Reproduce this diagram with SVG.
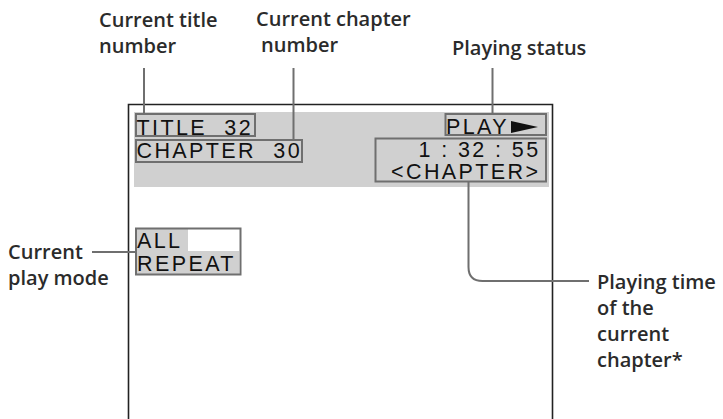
<svg xmlns="http://www.w3.org/2000/svg" width="723" height="419" viewBox="0 0 723 419">
<style>
.lbl{font-family:"Open Sans","Noto Sans",sans-serif;font-weight:600;font-size:20px;fill:#2b2b2b}
.osd{font-family:"Liberation Sans",Arial,sans-serif;font-size:21.5px;fill:#111;letter-spacing:2.4px}
.box{fill:none;stroke:#6f6f6f;stroke-width:2}
.lead{fill:none;stroke:#6f6f6f;stroke-width:2}
</style>
<rect width="723" height="419" fill="#fff"/>
<g id="screen">
<path d="M128.5,419 V104.5 H552.5 V419" fill="none" stroke="#222" stroke-width="1.6"/>
<rect x="134" y="112" width="415" height="75" fill="#d0d0d0"/>
</g>
<g id="title-box">
<rect class="box" x="136" y="114" width="119" height="22"/>
<text class="osd" x="136.5" y="134.5">TITLE</text>
<text class="osd" x="253" y="134.5" text-anchor="end">32</text>
</g>
<g id="chapter-box">
<rect class="box" x="136" y="140" width="166" height="22"/>
<text class="osd" x="136.5" y="157.8">CHAPTER</text>
<text class="osd" x="302" y="157.8" text-anchor="end">30</text>
</g>
<g id="play-box">
<rect class="box" x="445.5" y="114" width="100.5" height="21"/>
<text class="osd" x="446" y="134.2">PLAY</text>
<polygon points="511,121 538,127 511,133" fill="#111"/>
</g>
<g id="time-box">
<rect class="box" x="375.5" y="138.5" width="170.5" height="43"/>
<text class="osd" x="540.5" y="156.7" text-anchor="end">1 : 32 : 55</text>
<text class="osd" x="540.5" y="178.5" text-anchor="end">&lt;CHAPTER&gt;</text>
</g>
<g id="mode-box">
<rect x="136" y="229" width="52" height="22" fill="#d0d0d0"/>
<rect x="136" y="251" width="103" height="23" fill="#d0d0d0"/>
<rect class="box" x="136" y="228.5" width="104.5" height="46"/>
<text class="osd" x="137" y="247.5">ALL</text>
<text class="osd" x="137" y="270.5">REPEAT</text>
</g>
<g id="label-title">
<text class="lbl" x="99" y="27">Current title</text>
<text class="lbl" x="99" y="53">number</text>
</g>
<g id="label-chapter">
<text class="lbl" x="256" y="26">Current chapter</text>
<text class="lbl" x="261" y="52">number</text>
</g>
<g id="label-status">
<text class="lbl" x="452" y="55">Playing status</text>
</g>
<g id="label-mode">
<text class="lbl" x="8" y="259">Current</text>
<text class="lbl" x="8" y="285">play mode</text>
</g>
<g id="label-time">
<text class="lbl" x="597" y="289">Playing time</text>
<text class="lbl" x="597" y="315">of the</text>
<text class="lbl" x="597" y="341">current</text>
<text class="lbl" x="597" y="367">chapter*</text>
</g>
<g id="connectors">
<line class="lead" x1="144" y1="68" x2="144" y2="113"/>
<line class="lead" x1="293.5" y1="68" x2="293.5" y2="139"/>
<line class="lead" x1="492.5" y1="68" x2="492.5" y2="113"/>
<line class="lead" x1="92" y1="252" x2="135" y2="252"/>
<path class="lead" d="M468.5,182 V267 Q468.5,281 482.5,281 H589"/>
</g>
</svg>
